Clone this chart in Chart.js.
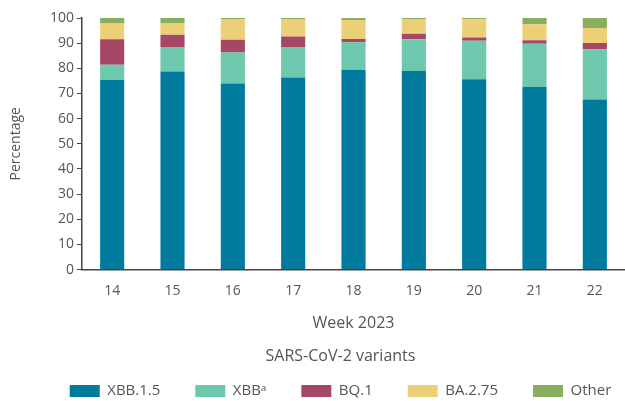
<!DOCTYPE html>
<html>
<head>
<meta charset="utf-8">
<script src="https://cdn.jsdelivr.net/npm/chart.js@4/dist/chart.umd.min.js"></script>
<style>
  html, body { margin: 0; padding: 0; background: #fff; }
  #wrap { width: 625px; height: 401px; position: relative; }
</style>
</head>
<body>
<div id="wrap"><canvas id="c"></canvas></div>
<script>
const weeks = ['14', '15', '16', '17', '18', '19', '20', '21', '22'];
const seriesNames = ['XBB.1.5', 'XBB\u1d43', 'BQ.1', 'BA.2.75', 'Other'];
const xbb15 = [75.4, 78.7, 74.0, 76.4, 79.4, 79.0, 75.7, 72.7, 67.6];
const xbb   = [6.0, 9.8, 12.3, 12.1, 11.0, 12.6, 15.3, 17.1, 20.0];
const bq1   = [10.2, 4.8, 5.1, 4.1, 1.3, 2.1, 1.2, 1.4, 2.5];
const ba275 = [6.2, 4.7, 8.2, 7.0, 7.5, 5.9, 7.3, 6.3, 5.9];
const other = [2.2, 2.0, 0.4, 0.4, 0.8, 0.4, 0.5, 2.5, 4.0];
const colors = ['#007b9e', '#6ec8ad', '#a54866', '#ecd078', '#88ae5e'];
const seriesValues = [xbb15, xbb, bq1, ba275, other];

const FONT = '"Open Sans", "Noto Sans", sans-serif';
const TXT = '#555555';
const AXIS = '#444444';

const shiftLegend = {
  id: 'shiftLegend',
  beforeDraw(chart) {
    const lg = chart.legend;
    if (!lg) return;
    lg.left = 1;
    lg.right = 680;
    lg.width = lg.right - lg.left;
  }
};

new Chart(document.getElementById('c'), {
  type: 'bar',
  data: {
    labels: weeks,
    datasets: seriesNames.map((n, i) => ({
      label: n,
      data: seriesValues[i],
      backgroundColor: colors[i],
      borderWidth: 0,
      barPercentage: 0.4,
      categoryPercentage: 1.0
    }))
  },
  options: {
    responsive: true,
    maintainAspectRatio: false,
    animation: false,
    layout: { padding: { top: 18, right: 0, left: 0, bottom: -7.5 } },
    plugins: {
      tooltip: { enabled: false },
      legend: {
        position: 'bottom',
        align: 'center',
        title: {
          display: true,
          text: 'SARS-CoV-2 variants',
          color: TXT,
          font: { family: FONT, size: 16 },
          padding: { top: 0, bottom: -18.7 }
        },
        labels: {
          boxWidth: 30,
          boxHeight: 12,
          padding: 35,
          color: TXT,
          font: { family: FONT, size: 15 }
        }
      }
    },
    scales: {
      x: {
        stacked: true,
        grid: { display: false, drawTicks: false },
        border: { display: true, color: AXIS, width: 1.5 },
        ticks: { color: TXT, font: { family: FONT, size: 14 }, padding: 13.5, maxRotation: 0 },
        title: {
          display: true,
          text: 'Week 2023',
          color: TXT,
          font: { family: FONT, size: 16 },
          padding: { top: 0, bottom: 15.4 }
        }
      },
      y: {
        stacked: true,
        min: 0,
        max: 100,
        grid: { drawOnChartArea: false, drawTicks: true, tickLength: 5, color: AXIS, lineWidth: 1 },
        border: { display: true, color: AXIS, width: 1.5 },
        ticks: { stepSize: 10, color: TXT, font: { family: FONT, size: 14 }, padding: 3 },
        title: {
          display: true,
          text: 'Percentage',
          color: TXT,
          font: { family: FONT, size: 14 },
          padding: { top: 7.6, bottom: 22.6 }
        }
      }
    }
  },
  plugins: [shiftLegend]
});
</script>
</body>
</html>
